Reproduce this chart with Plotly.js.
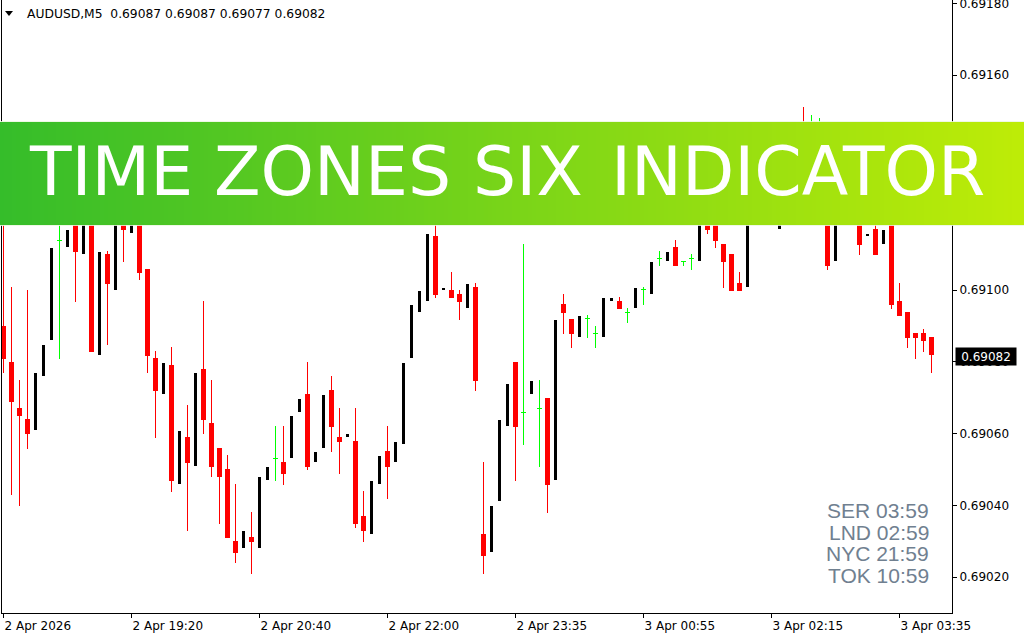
<!DOCTYPE html>
<html>
<head>
<meta charset="utf-8">
<script src="https://cdn.plot.ly/plotly-3.0.1.min.js"></script>
<style>
html,body{margin:0;padding:0;background:#ffffff;overflow:hidden}
#chart{width:1024px;height:640px}
</style>
</head>
<body>
<div id="chart"></div>
<script>
// ---------------- data ----------------
const symbol = 'AUDUSD,M5';
const bannerTitle = 'TIME ZONES SIX INDICATOR';

const open = [
0.690900,0.690800,0.690671,0.690641,0.690611,0.690762,0.690862,0.691139,0.691121,0.691230,
0.691102,0.691240,0.690820,0.691101,0.691001,0.691200,0.691160,0.691220,0.691059,0.690811,
0.690711,0.690791,0.690460,0.690591,0.690510,0.690780,0.690630,0.690560,0.690501,0.690300,
0.690282,0.690312,0.690282,0.690471,0.690531,0.690521,0.690533,0.690661,0.690710,0.690522,
0.690561,0.690722,0.690591,0.690591,0.690579,0.690370,0.690321,0.690460,0.690551,0.690522,
0.690572,0.690812,0.690940,0.690971,0.691151,0.691001,0.691001,0.690989,0.690951,0.691009,
0.690320,0.690271,0.690413,0.690622,0.690800,0.690659,0.690711,0.690671,0.690699,0.690471,
0.690962,0.690920,0.690870,0.690920,0.690880,0.690870,0.690971,0.690970,0.690939,0.690951,
0.691001,0.690990,0.691089,0.691082,0.691121,0.691081,0.691089,0.691082,0.691210,0.691185,
0.691129,0.691101,0.691020,0.691010,0.691240,0.691300,0.691330,0.691172,0.691320,0.691390,
0.691460,0.691430,0.691420,0.691410,0.691082,0.691250,0.691280,0.691210,0.691152,0.691171,
0.691130,0.691185,0.690970,0.690939,0.690881,0.690881,0.690870];

const high = [
0.691220,0.691009,0.690750,0.691001,0.690769,0.690847,0.691118,0.691240,0.691168,0.691250,
0.691220,0.691250,0.691107,0.691109,0.691200,0.691220,0.691210,0.691240,0.691059,0.690830,
0.690797,0.690842,0.690607,0.690680,0.690769,0.690970,0.690750,0.690560,0.690540,0.690459,
0.690328,0.690381,0.690479,0.690507,0.690621,0.690621,0.690649,0.690697,0.690800,0.690549,
0.690708,0.690761,0.690671,0.690599,0.690671,0.690440,0.690468,0.690538,0.690621,0.690577,
0.690797,0.690959,0.690998,0.691157,0.691190,0.691006,0.691051,0.691001,0.691017,0.691020,
0.690521,0.690398,0.690638,0.690738,0.690800,0.691129,0.690747,0.690750,0.690699,0.690917,
0.690989,0.690920,0.690928,0.690931,0.690900,0.690978,0.690978,0.690981,0.690950,0.691006,
0.691009,0.691079,0.691109,0.691107,0.691140,0.691081,0.691101,0.691210,0.691220,0.691190,
0.691129,0.691101,0.691051,0.691240,0.691300,0.691340,0.691340,0.691320,0.691390,0.691440,
0.691511,0.691489,0.691480,0.691420,0.691250,0.691280,0.691290,0.691220,0.691157,0.691190,
0.691168,0.691200,0.691020,0.690939,0.690881,0.690892,0.690870];

const low = [
0.690770,0.690430,0.690399,0.690558,0.690611,0.690762,0.690862,0.690809,0.691121,0.690968,
0.691102,0.690828,0.690820,0.690848,0.691001,0.691080,0.691160,0.691028,0.690770,0.690589,
0.690711,0.690438,0.690460,0.690329,0.690510,0.690600,0.690480,0.690349,0.690310,0.690240,
0.690282,0.690209,0.690282,0.690471,0.690469,0.690457,0.690533,0.690661,0.690499,0.690522,
0.690561,0.690550,0.690488,0.690591,0.690338,0.690298,0.690321,0.690460,0.690418,0.690522,
0.690572,0.690812,0.690940,0.690971,0.690979,0.691001,0.690979,0.690918,0.690951,0.690720,
0.690209,0.690271,0.690413,0.690622,0.690469,0.690569,0.690711,0.690508,0.690379,0.690471,
0.690879,0.690840,0.690870,0.690868,0.690840,0.690870,0.690971,0.690948,0.690909,0.690951,
0.690960,0.690990,0.691068,0.691082,0.691068,0.691068,0.691057,0.691082,0.691158,0.691119,
0.691007,0.690999,0.690999,0.691010,0.691240,0.691300,0.691185,0.691172,0.691320,0.691390,
0.691380,0.691390,0.691360,0.691056,0.691082,0.691250,0.691190,0.691099,0.691152,0.691099,
0.691130,0.690948,0.690929,0.690840,0.690809,0.690828,0.690770];

const close = [
0.690809,0.690689,0.690650,0.690600,0.690769,0.690847,0.691118,0.691139,0.691168,0.691107,
0.691220,0.690828,0.691107,0.691018,0.691200,0.691169,0.691210,0.691049,0.690817,0.690720,
0.690797,0.690469,0.690607,0.690519,0.690769,0.690639,0.690508,0.690480,0.690310,0.690268,
0.690328,0.690298,0.690479,0.690507,0.690531,0.690488,0.690649,0.690697,0.690508,0.690549,
0.690708,0.690619,0.690577,0.690599,0.690349,0.690329,0.690468,0.690538,0.690508,0.690577,
0.690797,0.690959,0.690998,0.691157,0.690987,0.691006,0.690979,0.690968,0.691017,0.690748,
0.690259,0.690398,0.690638,0.690738,0.690619,0.690659,0.690747,0.690671,0.690457,0.690917,
0.690937,0.690879,0.690928,0.690920,0.690880,0.690978,0.690978,0.690948,0.690939,0.691006,
0.691001,0.691079,0.691089,0.691107,0.691068,0.691081,0.691089,0.691210,0.691169,0.691138,
0.691080,0.690999,0.690999,0.691240,0.691300,0.691340,0.691190,0.691320,0.691390,0.691440,
0.691400,0.691430,0.691420,0.691068,0.691250,0.691280,0.691210,0.691127,0.691157,0.691099,
0.691168,0.690960,0.690929,0.690868,0.690868,0.690859,0.690820];

const tickBars   = [0, 16, 32, 48, 64, 80, 96, 112];
const tickLabels = ['2 Apr 2026','2 Apr 19:20','2 Apr 20:40','2 Apr 22:00',
                    '2 Apr 23:35','3 Apr 00:55','3 Apr 02:15','3 Apr 03:35'];
// visible price-scale ticks (0.69120 and 0.69140 sit behind the banner)
const priceTicks = [0.69020,0.69040,0.69060,0.69080,0.69100,0.69160,0.69180];

const zoneNames = ['SER','LND','NYC','TOK'];
const zoneTimes = ['03:59','02:59','21:59','10:59'];

// ---------------- layout helpers ----------------
const W = 1024, H = 640;
const PLOT_L = 2, PLOT_R = 952, PLOT_T = 0, PLOT_B = 613;
const PX_PER_BAR = 8;
const xr0 = -1.5 / PX_PER_BAR;
const xRange = [xr0, xr0 + (PLOT_R - PLOT_L) / PX_PER_BAR];
const yRange = [0.6900996, 0.6918095];
const pricePerPx = (yRange[1] - yRange[0]) / (PLOT_B - PLOT_T);
const px = v => v / W;            // horizontal px -> paper
const py = v => 1 - v / H;        // vertical px -> paper

const idx = open.map((_, i) => i);
const kind = open.map((o, i) => close[i] > o ? 'up' : (close[i] < o ? 'down' : 'doji'));
const COL = {up: '#000000', down: '#FF0000', doji: '#00FF00'};

const wicks = {
  type: 'bar', x: idx, base: low, y: high.map((h, i) => h - low[i]),
  width: 1 / PX_PER_BAR,
  marker: {color: kind.map(k => COL[k]), line: {width: 0}},
  hoverinfo: 'skip'
};
const bodies = {
  type: 'bar', x: idx,
  base: open.map((o, i) => kind[i] === 'doji' ? o - pricePerPx / 2 : Math.min(o, close[i])),
  y: open.map((o, i) => kind[i] === 'doji' ? pricePerPx : Math.abs(close[i] - o)),
  width: kind.map(k => k === 'up' ? 3 / PX_PER_BAR : 5 / PX_PER_BAR),
  marker: {color: kind.map(k => COL[k]), line: {width: 0}},
  hoverinfo: 'skip'
};

// banner gradient (layout decoration)
const shapes = [];
const gL = [53, 189, 42], gR = [190, 236, 7];
const STRIP = 4;
for (let s = 0; s < W / STRIP; s++) {
  const t = (s + 0.5) / (W / STRIP);
  const c = gL.map((v, j) => Math.round(v + (gR[j] - v) * t));
  shapes.push({type: 'rect', xref: 'paper', yref: 'paper', layer: 'above',
    x0: px(s * STRIP), x1: px((s + 1) * STRIP), y0: py(225), y1: py(122),
    fillcolor: `rgb(${c[0]},${c[1]},${c[2]})`, line: {width: 0}});
}
[121.5, 225.5].forEach(yy => shapes.push({type: 'line', xref: 'paper', yref: 'paper', layer: 'above',
  x0: 0, x1: 1, y0: py(yy), y1: py(yy), line: {color: 'rgba(235,248,225,0.85)', width: 1}}));
// header triangle
shapes.push({type: 'path', xref: 'paper', yref: 'paper', layer: 'above',
  path: `M ${px(5)},${py(11)} L ${px(13)},${py(11)} L ${px(9)},${py(16)} Z`,
  fillcolor: '#000', line: {width: 0}});

const axisFont = {family: 'DejaVu Sans, Verdana, sans-serif', size: 12, color: '#000'};
const annotations = [];
const last = open.length - 1;
annotations.push({
  xref: 'paper', yref: 'paper', x: px(25), y: py(14), xanchor: 'left', yanchor: 'middle',
  showarrow: false, font: {family: 'DejaVu Sans, Verdana, sans-serif', size: 12.3, color: '#000'},
  text: `${symbol}\u00A0 ${open[last].toFixed(5)} ${high[last].toFixed(5)} ${low[last].toFixed(5)} ${close[last].toFixed(5)}`
});
// current price tag on the price scale
annotations.push({
  xref: 'paper', yref: 'y', x: px(955), y: close[last], xanchor: 'left', yanchor: 'middle',
  yshift: -2, showarrow: false, text: close[last].toFixed(5),
  font: {family: 'DejaVu Sans, Verdana, sans-serif', size: 12, color: '#fff'},
  bgcolor: '#000', borderpad: 1, width: 58, height: 15, align: 'center'
});
// time zone clocks
const zoneY = [510, 532, 553.5, 575];
zoneNames.forEach((z, i) => annotations.push({
  xref: 'paper', yref: 'paper', x: px(931), y: py(zoneY[i]), xanchor: 'right', yanchor: 'middle',
  showarrow: false, text: `${z} ${zoneTimes[i]}`,
  font: {family: 'Liberation Sans, Arial, sans-serif', size: 21, color: '#708090'}
}));
// banner words
const words = bannerTitle.split(' ');
const wordCenters = [111, 332.5, 527.5, 797.5];
words.forEach((w, i) => annotations.push({
  xref: 'paper', yref: 'paper', x: px(wordCenters[i]), y: py(171.5), xanchor: 'center', yanchor: 'middle',
  showarrow: false, text: w,
  font: {family: 'DejaVu Sans, sans-serif', size: 68, color: '#ffffff'}
}));

const layout = {
  width: W, height: H,
  margin: {l: 0, r: 0, t: 0, b: 0, pad: 0},
  paper_bgcolor: '#ffffff', plot_bgcolor: '#ffffff',
  showlegend: false, barmode: 'overlay', bargap: 0,
  xaxis: {
    domain: [px(PLOT_L), px(PLOT_R)], range: xRange, type: 'linear',
    showgrid: false, zeroline: false, showline: true, linecolor: '#000', linewidth: 1,
    ticks: 'outside', ticklen: 4, tickcolor: '#000', tickwidth: 1,
    tickmode: 'array', tickvals: tickBars, ticktext: tickLabels,
    ticklabelposition: 'outside right', ticklabelstandoff: 2, ticklabeloverflow: 'allow',
    tickfont: axisFont, fixedrange: true
  },
  yaxis: {
    domain: [1 - PLOT_B / H, 1 - PLOT_T / H], range: yRange, side: 'right',
    showgrid: false, zeroline: false, showline: true, mirror: true, linecolor: '#000', linewidth: 1,
    ticks: 'outside', ticklen: 4, tickcolor: '#000', tickwidth: 1,
    tickmode: 'array', tickvals: priceTicks, tickformat: '.5f', ticklabeloverflow: 'allow',
    tickfont: axisFont, fixedrange: true
  },
  shapes: shapes,
  annotations: annotations
};

Plotly.newPlot('chart', [wicks, bodies], layout, {staticPlot: true, displayModeBar: false});
</script>
</body>
</html>
